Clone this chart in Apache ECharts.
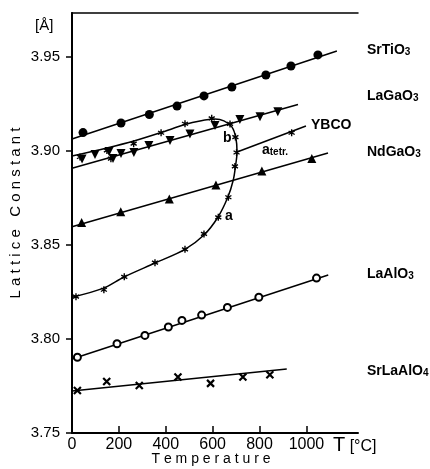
<!DOCTYPE html>
<html>
<head>
<meta charset="utf-8">
<script src="https://cdn.jsdelivr.net/npm/echarts@6/dist/echarts.min.js"></script>
<style>
  html, body { margin: 0; padding: 0; background: #fff; }
  #chart { width: 430px; height: 469px; }
</style>
</head>
<body>
<div id="chart"></div>
<script>
// tick values
const xTicks = [0, 200, 400, 600, 800, 1000];
const yTicks = [3.75, 3.80, 3.85, 3.90, 3.95];

// measured points [T in °C, lattice constant in Å]
const srTiO3Points = [[47, 3.9098], [209, 3.9149], [330, 3.9194], [448, 3.9239], [563, 3.9293], [682, 3.9340], [827, 3.9404], [934, 3.9452], [1049, 3.9511]];
const srTiO3Fit = [[0, 3.9064], [1130, 3.9532]];

const laGaO3Points = [[43, 3.8957], [98, 3.8981], [158, 3.8997], [175, 3.8960], [209, 3.8987], [264, 3.8992], [328, 3.9029], [418, 3.9056], [503, 3.9090], [610, 3.9136], [716, 3.9168], [802, 3.9182], [878, 3.9209]];
const laGaO3Fit = [[0, 3.8908], [964, 3.9247]];

// YBCO: a axis (lower branch) up to the transition, then b axis back down to room temperature
const ybcoCurve = [[0, 3.8222], [132, 3.8269], [222, 3.8330], [354, 3.8404], [482, 3.8477], [563, 3.8553], [623, 3.8649], [665, 3.8755], [688, 3.8846], [697, 3.8915], [704, 3.8995], [699, 3.9069], [682, 3.9128], [648, 3.9160], [610, 3.9170], [546, 3.9160], [482, 3.9141], [380, 3.9098], [264, 3.9053], [149, 3.9016], [0, 3.8973]];
const ybcoPoints = [[17, 3.8225], [136, 3.8262], [223, 3.8331], [354, 3.8406], [482, 3.8477], [563, 3.8559], [624, 3.8647], [667, 3.8754], [695, 3.8918], [702, 3.8992], [697, 3.9074], [674, 3.9144], [596, 3.9174], [482, 3.9145], [380, 3.9097], [263, 3.9039], [149, 3.9003], [166, 3.8959], [34, 3.8968], [937, 3.9097]];
const ybcoTetrFit = [[704, 3.8995], [998, 3.9133]];

const ndGaO3Points = [[41, 3.8619], [208, 3.8677], [415, 3.8745], [614, 3.8819], [810, 3.8894], [1023, 3.8960]];
const ndGaO3Fit = [[0, 3.8597], [1092, 3.8989]];

const laAlO3Points = [[23, 3.7903], [192, 3.7975], [311, 3.8019], [411, 3.8064], [469, 3.8099], [553, 3.8127], [663, 3.8168], [797, 3.8222], [1043, 3.8324]];
const laAlO3Fit = [[0, 3.7894], [1093, 3.8340]];

const srLaAlO4Points = [[23, 3.7726], [148, 3.7774], [287, 3.7753], [452, 3.7798], [591, 3.7764], [729, 3.7798], [844, 3.7810]];
const srLaAlO4Fit = [[0, 3.7723], [916, 3.7841]];

const font = '"Liberation Sans", Arial, Helvetica, sans-serif';
const starPath = 'path://M0,-5L0,5M-4.33,-2.5L4.33,2.5M-4.33,2.5L4.33,-2.5';
const crossPath = 'path://M-4,-4L4,4M-4,4L4,-4';

const chart = echarts.init(document.getElementById('chart'));

function fitLine(data) {
  return {
    type: 'line', data: data, symbol: 'none', silent: true, z: 2,
    lineStyle: { color: '#000', width: 1.5 }
  };
}
function dots(data, symbol, size, extra) {
  return Object.assign({
    type: 'scatter', data: data, symbol: symbol, symbolSize: size, silent: true, z: 3,
    itemStyle: { color: '#000', opacity: 1 }
  }, extra || {});
}

function label(text, x, y, rich) {
  return {
    type: 'text', x: x, y: y,
    style: { text: text, rich: rich, fill: '#000', verticalAlign: 'middle', font: 'bold 14px ' + font }
  };
}
const subRich = {
  m: { fontFamily: font, fontWeight: 'bold', fontSize: 14, verticalAlign: 'bottom' },
  s: { fontFamily: font, fontWeight: 'bold', fontSize: 10, verticalAlign: 'bottom' }
};

const option = {
  animation: false,
  textStyle: { fontFamily: font },
  grid: { left: 72, right: 72, top: 13, bottom: 36 },
  xAxis: [{
    type: 'value', min: 0, max: 1220, interval: 200,
    axisLine: { lineStyle: { color: '#000', width: 2 } },
    axisTick: { inside: true, length: 7, customValues: xTicks, lineStyle: { color: '#000', width: 1.5 } },
    axisLabel: { customValues: xTicks, color: '#000', fontSize: 16, margin: 4, fontFamily: font,
      formatter: v => String(v) },
    splitLine: { show: false }
  }, {
    type: 'value', position: 'top', min: 0, max: 1220,
    axisLine: { lineStyle: { color: '#000', width: 1.5 } },
    axisTick: { show: false }, axisLabel: { show: false }, splitLine: { show: false }
  }],
  yAxis: [{
    type: 'value', min: 3.75, max: 3.9734, interval: 0.05,
    axisLine: { lineStyle: { color: '#000', width: 2 } },
    axisTick: { length: 6, customValues: yTicks, lineStyle: { color: '#000', width: 1.5 } },
    axisLabel: { customValues: yTicks, color: '#000', fontSize: 15, margin: 12, fontFamily: font,
      formatter: v => v.toFixed(2) },
    splitLine: { show: false }
  }, {
    type: 'value', position: 'right', min: 3.75, max: 3.9734,
    axisLine: { show: true, lineStyle: { color: '#000', width: 1.5 } },
    axisTick: { show: false }, axisLabel: { show: false }, splitLine: { show: false }
  }],
  series: [
    fitLine(srTiO3Fit),
    dots(srTiO3Points, 'circle', 9),
    fitLine(laGaO3Fit),
    dots(laGaO3Points, 'triangle', 9, { symbolRotate: 180 }),
    Object.assign(fitLine(ybcoCurve), { smooth: 0.3 }),
    fitLine(ybcoTetrFit),
    dots(ybcoPoints, starPath, 7, { symbolKeepAspect: true, itemStyle: { color: '#000', borderColor: '#000', borderWidth: 1.4, opacity: 1 } }),
    fitLine(ndGaO3Fit),
    dots(ndGaO3Points, 'triangle', 9),
    fitLine(laAlO3Fit),
    dots(laAlO3Points, 'emptyCircle', 7, { itemStyle: { color: '#000', borderColor: '#000', borderWidth: 1.6, opacity: 1 } }),
    fitLine(srLaAlO4Fit),
    dots(srLaAlO4Points, crossPath, 7, { itemStyle: { color: '#000', borderColor: '#000', borderWidth: 2.2, opacity: 1 } })
  ],
  graphic: [
    { type: 'text', x: 35, y: 26, style: { text: '[Å]', fill: '#000', font: '15px ' + font, verticalAlign: 'middle' } },
    { type: 'text', x: 16, y: 213, rotation: Math.PI / 2,
      style: { text: 'L a t t i c e   C o n s t a n t', fill: '#000', font: '15px ' + font, align: 'center', verticalAlign: 'middle' } },
    { type: 'text', x: 211, y: 459,
      style: { text: 'T e m p e r a t u r e', fill: '#000', font: '14px ' + font, align: 'center', verticalAlign: 'middle' } },
    { type: 'text', x: 333, y: 445,
      style: { text: '{t|T}{u| [°C]}', fill: '#000', verticalAlign: 'middle',
        rich: { t: { fontFamily: font, fontSize: 20, verticalAlign: 'bottom' }, u: { fontFamily: font, fontSize: 16, verticalAlign: 'bottom' } } } },
    label('{m|SrTiO}{s|3}', 367, 50, subRich),
    label('{m|LaGaO}{s|3}', 367, 96, subRich),
    label('{m|NdGaO}{s|3}', 367, 152, subRich),
    label('{m|LaAlO}{s|3}', 367, 274, subRich),
    label('{m|SrLaAlO}{s|4}', 367, 371, subRich),
    label('{m|YBCO}', 311, 125, subRich),
    label('{m|b}', 223, 138, subRich),
    label('{m|a}', 225, 216, subRich),
    label('{m|a}{s|tetr.}', 262, 150, subRich)
  ]
};
chart.setOption(option);
</script>
</body>
</html>
